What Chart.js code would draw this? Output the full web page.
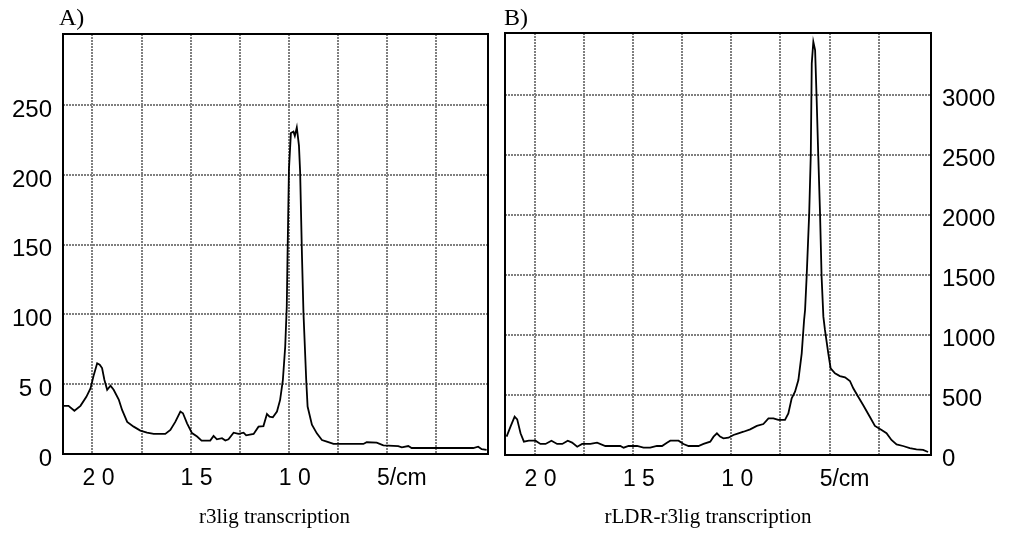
<!DOCTYPE html>
<html>
<head>
<meta charset="utf-8">
<script src="https://cdn.jsdelivr.net/npm/chart.js@4.4.0/dist/chart.umd.min.js"></script>
<style>
  body { margin: 0; background: #fff; }
  .panel { position: absolute; top: 0; height: 541px; }
  #boxA { left: 0; width: 500px; }
  #boxB { left: 495px; width: 516px; }
</style>
</head>
<body>
<div class="panel" id="boxA"><canvas id="chartA"></canvas></div>
<div class="panel" id="boxB"><canvas id="chartB"></canvas></div>
<script>
// distance along the gel (cm) and signal
const cmA = [21.48, 21.22, 20.92, 20.61, 20.31, 20.10, 19.93, 19.76, 19.63, 19.51, 19.39, 19.25, 19.08, 18.92, 18.66, 18.49, 18.23, 17.90, 17.56, 17.22, 16.88, 16.29, 16.03, 15.78, 15.52, 15.39, 15.18, 14.93, 14.67, 14.44, 14.00, 13.83, 13.66, 13.40, 13.23, 13.07, 12.81, 12.56, 12.30, 12.17, 11.79, 11.54, 11.29, 11.11, 10.98, 10.81, 10.60, 10.44, 10.30, 10.18, 10.10, 10.06, 9.99, 9.89, 9.76, 9.69, 9.59, 9.48, 9.42, 9.33, 9.25, 9.11, 9.04, 8.82, 8.57, 8.31, 8.06, 7.72, 6.20, 6.03, 5.52, 5.18, 4.42, 4.24, 3.91, 3.74, 0.60, 0.35, 0.17, -0.08];
const valA = [34.5, 34.5, 31, 34.5, 41, 47, 56.7, 65, 64, 61.6, 53, 46, 49, 46, 39, 31.6, 23, 19.6, 16.8, 15.3, 14.4, 14.4, 17.2, 23, 30.4, 29.2, 22, 15, 12.5, 9.6, 9.6, 13, 10.5, 11.3, 9.6, 10.5, 15.3, 14.4, 15.3, 13.4, 14.4, 19.6, 20, 28.7, 26.8, 26.3, 30.4, 38.8, 53, 77, 106, 144, 204, 230, 231, 228, 234, 221, 202, 144, 101, 53, 34, 21, 14.8, 10, 8.9, 7.2, 7.2, 8.4, 8.1, 6.2, 5.7, 4.8, 5.7, 4.3, 4.3, 5.2, 3.4, 2.9];

const cmB = [21.42, 21.22, 21.01, 20.88, 20.71, 20.54, 20.29, 19.95, 19.70, 19.44, 19.14, 18.85, 18.59, 18.31, 18.09, 17.83, 17.58, 17.16, 16.82, 16.40, 15.64, 15.47, 15.22, 14.79, 14.46, 14.12, 13.78, 13.52, 13.27, 13.10, 12.68, 12.43, 12.17, 11.67, 11.41, 11.07, 10.90, 10.73, 10.57, 10.40, 10.14, 9.89, 9.64, 9.38, 9.04, 8.70, 8.37, 8.11, 7.86, 7.61, 7.27, 7.10, 6.93, 6.76, 6.59, 6.42, 6.30, 6.25, 6.17, 6.04, 5.96, 5.91, 5.83, 5.74, 5.66, 5.58, 5.49, 5.41, 5.32, 5.24, 5.07, 4.95, 4.73, 4.48, 4.22, 3.97, 3.80, 3.55, 3.30, 2.96, 2.70, 2.36, 2.11, 1.86, 1.60, 1.27, 0.93, 0.59, 0.25, 0.00];
const valB = [153, 236, 319, 297, 181, 111, 119, 119, 92, 92, 119, 92, 92, 119, 103, 69, 92, 92, 103, 75, 75, 61, 75, 75, 61, 61, 75, 75, 103, 119, 119, 92, 75, 75, 92, 111, 153, 181, 153, 139, 144, 167, 181, 194, 214, 242, 258, 306, 306, 292, 292, 347, 472, 528, 625, 847, 1125, 1208, 1486, 2014, 2500, 3264, 3444, 3375, 2958, 2500, 2016, 1486, 1153, 1042, 847, 722, 681, 658, 647, 617, 556, 486, 417, 319, 242, 208, 181, 125, 89, 75, 58, 47, 42, 25];

// axis ticks
const xTicks = [2.5, 5, 7.5, 10, 12.5, 15, 17.5, 20];
const xTickLabels = { 5: '5/cm', 10: '1 0', 15: '1 5', 20: '2 0' };
const yTicksA = [0, 50, 100, 150, 200, 250];
const yTickLabelsA = { 50: '5 0' };
const yTicksB = [0, 500, 1000, 1500, 2000, 2500, 3000];

const sans = '"Liberation Sans", Arial, sans-serif';
const gridStyle = { color: '#7f7f7f', lineWidth: 2, drawTicks: false };

// frame, panel letter and caption under each plot
const panelText = {
    id: 'panelText',
    afterDraw(chart, args, opts) {
        const { ctx, chartArea: a } = chart;
        ctx.save();
        ctx.strokeStyle = '#000';
        ctx.lineWidth = 2;
        ctx.strokeRect(a.left, a.top, a.right - a.left, a.bottom - a.top);
        ctx.fillStyle = '#000';
        ctx.textBaseline = 'alphabetic';
        ctx.font = '24px "Liberation Serif", "Times New Roman", serif';
        ctx.textAlign = 'left';
        ctx.fillText(opts.letter, a.left + opts.letterDx, 25);
        ctx.font = '21px "Liberation Serif", "Times New Roman", serif';
        ctx.textAlign = 'center';
        ctx.fillText(opts.caption, (a.left + a.right) / 2 + opts.captionDx, 523);
        ctx.restore();
    }
};

function xScale(height) {
    return {
        type: 'linear',
        reverse: true,
        min: -0.15,
        max: 21.5,
        afterBuildTicks: s => { s.ticks = xTicks.map(v => ({ value: v })); },
        afterFit: s => { s.height = height; },
        grid: gridStyle,
        border: { display: false, dash: [2, 1] },
        ticks: {
            autoSkip: false,
            maxRotation: 0,
            align: 'start',
            labelOffset: -10,
            padding: 11,
            color: '#000',
            font: { family: sans, size: 23 },
            callback: v => xTickLabels[v] || ''
        }
    };
}

new Chart(document.getElementById('chartA'), {
    type: 'line',
    data: {
        datasets: [{
            data: cmA.map((x, i) => ({ x: x, y: valA[i] })),
            borderColor: '#000',
            borderWidth: 1.8,
            pointRadius: 0,
            tension: 0
        }]
    },
    options: {
        maintainAspectRatio: false,
        animation: false,
        layout: { padding: { top: 34, right: 12, bottom: 0, left: 0 } },
        plugins: {
            legend: { display: false },
            tooltip: { enabled: false },
            panelText: { letter: 'A)', letterDx: -4, caption: 'r3lig transcription', captionDx: -1 }
        },
        scales: {
            x: xScale(87),
            y: {
                type: 'linear',
                min: 0,
                max: 301,
                afterBuildTicks: s => { s.ticks = yTicksA.map(v => ({ value: v })); },
                afterFit: s => { s.width = 63; },
                grid: gridStyle,
                border: { display: false, dash: [2, 1] },
                ticks: {
                    padding: 11,
                    labelOffset: 5,
                    color: '#000',
                    font: { family: sans, size: 24 },
                    callback: v => yTickLabelsA[v] || String(v)
                }
            }
        }
    },
    plugins: [panelText]
});

new Chart(document.getElementById('chartB'), {
    type: 'line',
    data: {
        datasets: [{
            data: cmB.map((x, i) => ({ x: x, y: valB[i] })),
            borderColor: '#000',
            borderWidth: 1.8,
            pointRadius: 0,
            tension: 0
        }]
    },
    options: {
        maintainAspectRatio: false,
        animation: false,
        layout: { padding: { top: 33, right: 0, bottom: 0, left: 10 } },
        plugins: {
            legend: { display: false },
            tooltip: { enabled: false },
            panelText: { letter: 'B)', letterDx: -1, caption: 'rLDR-r3lig transcription', captionDx: -10 }
        },
        scales: {
            x: xScale(86),
            y: {
                type: 'linear',
                position: 'right',
                min: 0,
                max: 3517,
                afterBuildTicks: s => { s.ticks = yTicksB.map(v => ({ value: v })); },
                afterFit: s => { s.width = 80; },
                grid: gridStyle,
                border: { display: false, dash: [2, 1] },
                ticks: {
                    padding: 11,
                    labelOffset: 4,
                    color: '#000',
                    font: { family: sans, size: 24 },
                    callback: v => String(v)
                }
            }
        }
    },
    plugins: [panelText]
});
</script>
</body>
</html>
